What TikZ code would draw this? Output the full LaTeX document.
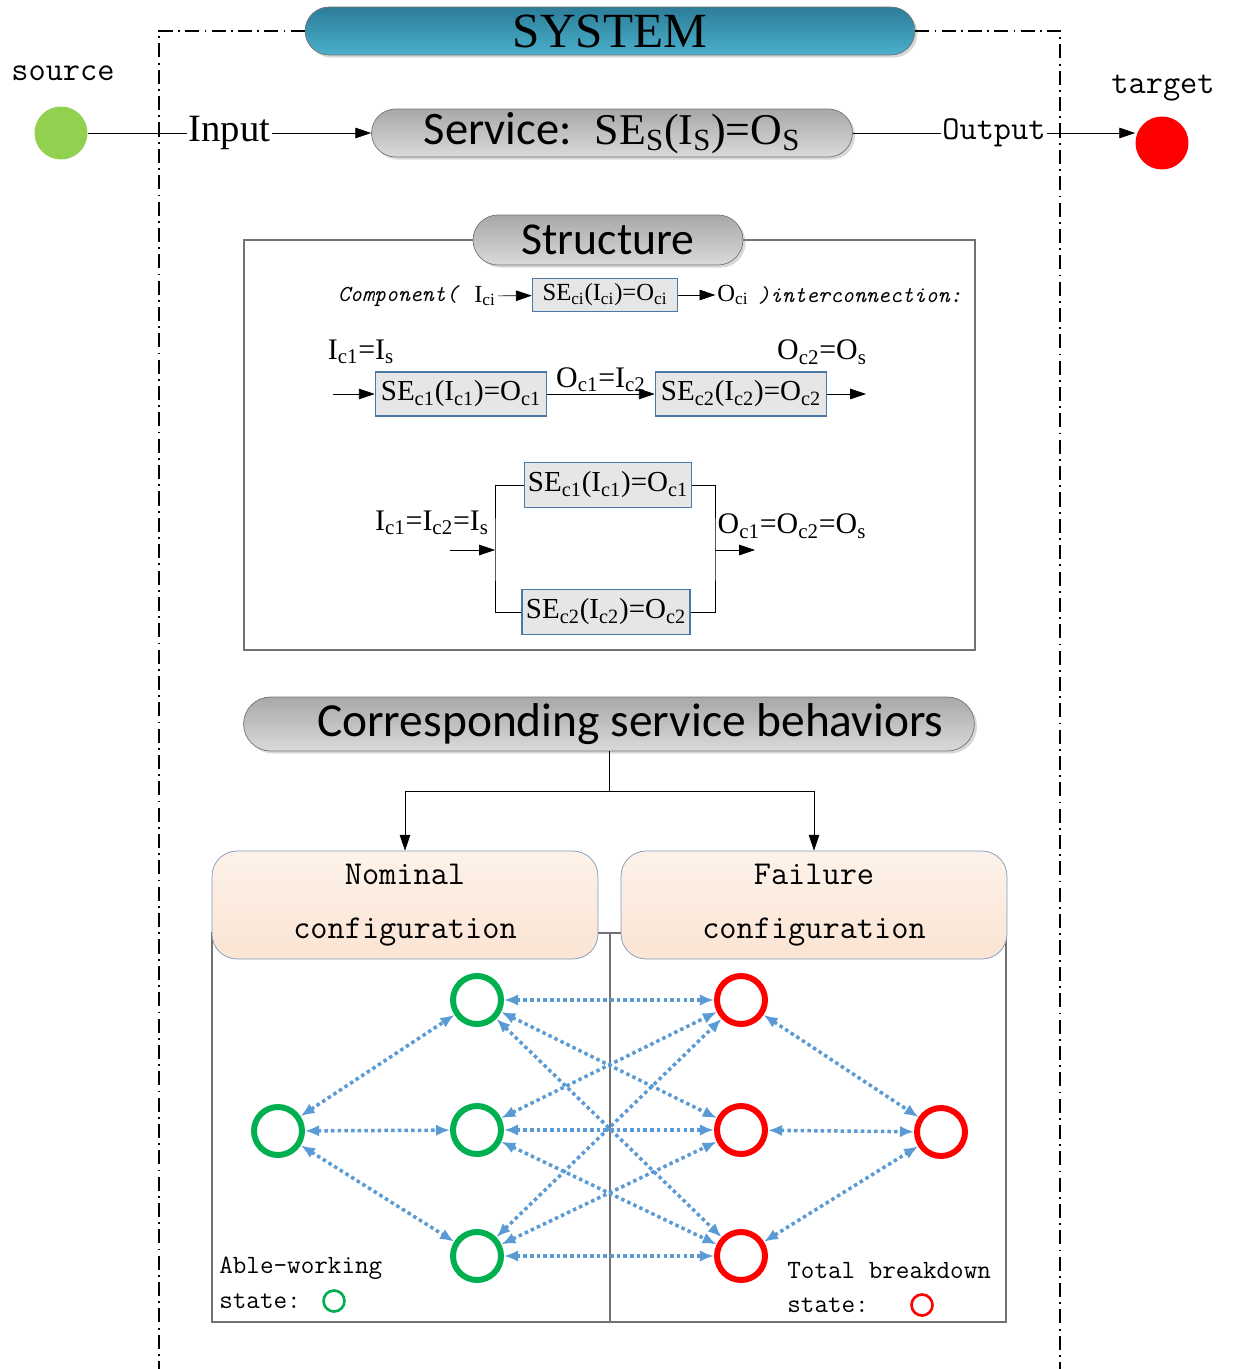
\documentclass[tikz,border=0pt]{standalone}
\usepackage{fontspec}
\setmainfont{Liberation Serif}
\setsansfont{Carlito}
\usetikzlibrary{arrows.meta,shadows}
\definecolor{sysa}{HTML}{2C7D98}
\definecolor{sysb}{HTML}{4AB0CC}
\definecolor{pilla}{HTML}{A8A8A8}
\definecolor{pillb}{HTML}{DADADA}
\definecolor{boxfill}{HTML}{E6E6E6}
\definecolor{boxline}{HTML}{4A79A8}
\definecolor{cfga}{HTML}{FDF2EA}
\definecolor{cfgb}{HTML}{FBE4D3}
\definecolor{cfgline}{HTML}{7F97B8}
\definecolor{okgreen}{HTML}{00B050}
\definecolor{srcgreen}{HTML}{92D050}
\definecolor{arrblue}{HTML}{5B9BD5}
\newcommand{\sbs}[1]{\textsubscript{#1}}
\begin{document}
\begin{tikzpicture}[x=0.02cm,y=-0.02cm,
  pill/.style={draw=black!55, top color=pilla, bottom color=pillb, inner sep=0pt,
    drop shadow={opacity=0.3,shadow xshift=1.5pt,shadow yshift=-1.5pt}},
  seblock/.style={draw=boxline, fill=boxfill, line width=0.9pt, inner sep=0pt},
  cfg/.style={draw=cfgline, top color=cfga, bottom color=cfgb, rounded corners=0.5cm,
    minimum width=7.72cm, minimum height=2.16cm, align=center,
    font=\ttfamily\fontsize{19}{31}\selectfont},
  ok/.style={circle, draw=okgreen, line width=3.4pt, minimum size=0.96cm, inner sep=0pt},
  ko/.style={ok, draw=red},
  trans/.style={{Latex[length=8pt,width=6.5pt]}-{Latex[length=8pt,width=6.5pt]},
    draw=arrblue, line width=2pt, dash pattern=on 2pt off 1.8pt},
  arr/.style={-{Triangle[length=9pt,width=6pt]}},
  mono/.style={font=\ttfamily\fontsize{19}{22}\selectfont},
  small/.style={font=\ttfamily\fontsize{15}{18}\selectfont, anchor=west, inner sep=0pt},
  lbl/.style={font=\fontsize{17}{19}\selectfont, inner sep=1pt},
  seq/.style={font=\fontsize{16.5}{19}\selectfont},
  frame/.style={line width=0.8pt, dash pattern=on 8pt off 3pt on 1pt off 3pt},
  panel/.style={draw=black!55, line width=1pt}]
\useasboundingbox (0,0) rectangle (1235,1369);

\node[pill, top color=sysa, bottom color=sysb, rounded corners=0.48cm,
  minimum width=12.2cm, minimum height=0.96cm,
  font=\fontsize{28}{30}\selectfont] (sys) at (610,31) {SYSTEM};
\coordinate (fl) at (159,31);
\coordinate (fr) at (1060,31);
\coordinate (fbl) at (159,1369);
\coordinate (fbr) at (1060,1369);
\draw[frame] (sys.west) -- (fl) -- (fbl);
\draw[frame] (sys.east) -- (fr) -- (fbr);

\node[circle, fill=srcgreen, minimum size=1.06cm] (src) at (61,133) {};
\node[mono] (srclbl) at (63,73) {source};
\node[circle, fill=red, minimum size=1.06cm] (tgt) at (1162,143) {};
\node[mono] (tgtlbl) at (1163,88) {target};
\node[pill, rounded corners=0.48cm, minimum width=9.62cm, minimum height=0.96cm] (svc) at (612,133)
  {{\sffamily\fontsize{26.5}{28}\selectfont Service:}\hspace{1.3em}{\fontsize{25}{27}\selectfont SE\sbs{S}(I\sbs{S})=O\sbs{S}}};
\draw[arr] (src) -- node[fill=white, inner sep=1pt, font=\fontsize{22}{24}\selectfont] (inlbl) {Input} (svc);
\draw[arr] (svc) -- node[fill=white, inner sep=1pt, mono] (outlbl) {Output} (svc -| tgt.west);

\draw[panel] (244,240) rectangle (975,650);
\node[pill, rounded corners=0.5cm, minimum width=5.4cm, minimum height=1cm,
  font=\sffamily\fontsize{26}{28}\selectfont] (struct) at (608,240) {Structure};

\node[font=\ttfamily\itshape\fontsize{13}{15}\selectfont] (comp) at (398,296) {Component(};
\node[lbl, font=\fontsize{14}{16}\selectfont] (ici) at (485,296) {I\sbs{ci}};
\node[seblock, minimum width=2.9cm, minimum height=0.66cm, font=\fontsize{14}{16}\selectfont] (seci) at (605,295)
  {SE\sbs{ci}(I\sbs{ci})=O\sbs{ci}};
\node[lbl, font=\fontsize{14}{16}\selectfont] (oci) at (733,295) {O\sbs{ci}};
\node[font=\ttfamily\itshape\fontsize{13}{15}\selectfont] (intc) at (860,296) {)interconnection:};
\draw[arr] (ici) -- (seci);
\draw[arr] (seci) -- (oci);

\coordinate (sin) at (333,394);
\coordinate (sout) at (866,394);
\node[seblock, seq, minimum width=3.42cm, minimum height=0.88cm] (s1) at (461,394)
  {SE\sbs{c1}(I\sbs{c1})=O\sbs{c1}};
\node[seblock, seq, minimum width=3.42cm, minimum height=0.88cm] (s2) at (741,394)
  {SE\sbs{c2}(I\sbs{c2})=O\sbs{c2}};
\draw[arr] (sin) -- (s1);
\draw[arr] (s1) -- node[lbl, above] (mid) {O\sbs{c1}=I\sbs{c2}} (s2);
\draw[arr] (s2) -- (sout);
\node[lbl] (sinlbl) at (361,352) {I\sbs{c1}=I\sbs{s}};
\node[lbl] (soutlbl) at (822,352) {O\sbs{c2}=O\sbs{s}};

\node[seblock, seq, minimum width=3.34cm, minimum height=0.9cm] (p1) at (608,485)
  {SE\sbs{c1}(I\sbs{c1})=O\sbs{c1}};
\node[seblock, seq, minimum width=3.36cm, minimum height=0.9cm] (p2) at (606,612)
  {SE\sbs{c2}(I\sbs{c2})=O\sbs{c2}};
\coordinate (pl) at (495,550);
\coordinate (pr) at (715,550);
\coordinate (pin) at (450,550);
\coordinate (pout) at (755,550);
\draw (p1.west) -| (pl) |- (p2.west);
\draw (p1.east) -| (pr) |- (p2.east);
\draw[arr] (pin) -- (pl);
\draw[arr] (pr) -- (pout);
\node[lbl] (pinlbl) at (432,523) {I\sbs{c1}=I\sbs{c2}=I\sbs{s}};
\node[lbl] (poutlbl) at (792,526) {O\sbs{c1}=O\sbs{c2}=O\sbs{s}};

\node[pill, rounded corners=0.54cm, minimum width=14.62cm, minimum height=1.08cm,
  font=\sffamily\fontsize{27}{29}\selectfont] (beh) at (609,724) {\hspace{0.9em}Corresponding service behaviors};

\draw[panel] (212,933) rectangle (1006,1322);
\draw[panel] (610,933) -- (610,1322);
\node[cfg] (nom) at (405,905) {Nominal\\configuration};
\node[cfg] (fail) at (814,905) {Failure\\configuration};
\coordinate (split) at (609,791);
\draw (beh.south) -- (split);
\draw[arr] (split) -| (nom.north);
\draw[arr] (split) -| (fail.north);

\node[ok] (g0) at (278,1131) {};
\node[ok] (g1) at (477,1000) {};
\node[ok] (g2) at (477,1130) {};
\node[ok] (g3) at (477,1256) {};
\node[ko] (r1) at (741,1000) {};
\node[ko] (r2) at (741,1130) {};
\node[ko] (r3) at (741,1256) {};
\node[ko] (r4) at (941,1132) {};
\foreach \i in {1,2,3} {
  \draw[trans] (g0) -- (g\i);
  \draw[trans] (r\i) -- (r4);
  \foreach \j in {1,2,3}
    \draw[trans] (g\i) -- (r\j);
}

\node[small] (oklbl) at (219,1268) {Able-working};
\node[small] (okst) at (219,1301) {state:};
\node[ok, minimum size=0.42cm, line width=1.5pt] (okkey) at (334,1301) {};
\node[small] (kolbl) at (787,1271) {Total breakdown};
\node[small] (kost) at (787,1305) {state:};
\node[ko, minimum size=0.42cm, line width=1.5pt] (kokey) at (922,1305) {};
\end{tikzpicture}
\end{document}
